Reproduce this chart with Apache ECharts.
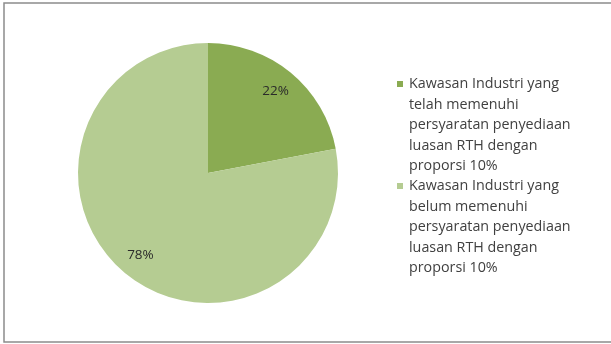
<!DOCTYPE html>
<html><head><meta charset="utf-8">
<script src="https://cdn.jsdelivr.net/npm/echarts@6/dist/echarts.min.js"></script>
<style>html,body{margin:0;padding:0;background:#fff}#c{width:611px;height:344px}</style>
</head><body><div id="c"></div>
<script>
const categories = [
  'Kawasan Industri yang\ntelah memenuhi\npersyaratan penyediaan\nluasan RTH dengan\nproporsi 10%',
  'Kawasan Industri yang\nbelum memenuhi\npersyaratan penyediaan\nluasan RTH dengan\nproporsi 10%'
];
const values = [22, 78];
const colors = ['#8aab52', '#b5cc92'];

const data = categories.map((n, i) => ({ name: n, value: values[i], itemStyle: { color: colors[i] } }));
const FONT = '"Open Sans", sans-serif';
const rich = {
  s: { width: 6, height: 6 },
  g: { width: 6 },
  t: { fontFamily: FONT, fontSize: 14.3, color: '#404040', lineHeight: 20.5 }
};
colors.forEach((c, i) => { rich['m' + i] = { width: 6, height: 6, backgroundColor: c }; });
const chart = echarts.init(document.getElementById('c'));
chart.setOption({
  animation: false,
  graphic: [{ type: 'rect', shape: { x: 4, y: 3, width: 640, height: 339 }, style: { fill: 'none', stroke: '#8c8c8c', lineWidth: 1.5 }, silent: true }],
  legend: {
    orient: 'vertical', left: 387, top: 72, itemGap: 6,
    icon: 'rect', itemWidth: 0, itemHeight: 0,
    data: categories,
    formatter: function (name) {
      const idx = categories.indexOf(name);
      const lines = name.split('\n');
      return lines.map((l, i) => (i === 0 ? '{m' + idx + '|}{g|}' : '{s|}{g|}') + '{t|' + l + '}').join('\n');
    },
    textStyle: { rich: rich }
  },
  series: [
    {
      type: 'pie', center: [208, 173], radius: 130, startAngle: 90, clockwise: true,
      data: data, label: { show: false }, labelLine: { show: false }, silent: true
    },
    {
      type: 'pie', center: [208, 173], radius: [98, 108], startAngle: 90, clockwise: true,
      data: data.map(d => ({ name: d.name, value: d.value, itemStyle: { color: 'rgba(0,0,0,0)' } })),
      label: { show: true, position: 'inside', formatter: '{c}%', fontFamily: FONT, fontSize: 13.5, color: '#2a2a2a' },
      labelLine: { show: false }, silent: true
    }
  ]
});
</script></body></html>
